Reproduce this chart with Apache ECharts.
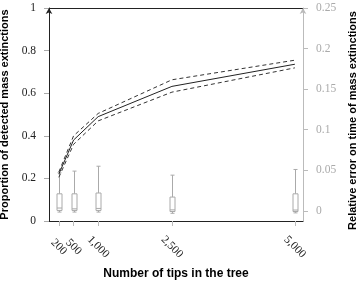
<!DOCTYPE html>
<html>
<head>
<meta charset="utf-8">
<script src="https://cdn.jsdelivr.net/npm/echarts@6/dist/echarts.min.js"></script>
<style>
  html, body { margin: 0; padding: 0; background: #fff; }
  #chart { width: 358px; height: 286px; }
</style>
</head>
<body>
<div id="chart"></div>
<script>
  'use strict';

  // number of tips
  const tips = [200, 500, 1000, 2500, 5000];
  const tipLabels = ['200', '500', '1,000', '2,500', '5,000'];

  // proportion of detected mass extinctions (mean and band)
  const propMean = [0.22, 0.38, 0.49, 0.632, 0.736];
  const propUpper = [0.23, 0.40, 0.505, 0.663, 0.755];
  const propLower = [0.205, 0.36, 0.47, 0.605, 0.719];

  // relative error boxplots: low whisker, q1, median, q3, high whisker
  const errLow = [-0.0015, -0.0015, -0.0015, -0.003, -0.0025];
  const errQ1 = [0.0005, 0.0005, 0.0005, -0.0008, -0.0008];
  const errMed = [0.0035, 0.0025, 0.003, 0.0012, 0.001];
  const errQ3 = [0.021, 0.021, 0.022, 0.017, 0.021];
  const errHigh = [0.047, 0.049, 0.055, 0.044, 0.051];

  const rightTicks = [0, 0.05, 0.1, 0.15, 0.2, 0.25];

  const serif = 'Liberation Serif';
  const sans = 'Liberation Sans';
  const xMax = 5165;

  const pairs = (ys) => tips.map((x, i) => [x, ys[i]]);
  const boxData = tips.map((x, i) => [x, errLow[i], errQ1[i], errMed[i], errQ3[i], errHigh[i]]);
  const tipLabel = (v) => tipLabels[tips.indexOf(v)] || '';

  function renderBox(params, api) {
    const x = api.value(0);
    const pLow = api.coord([x, api.value(1)]);
    const pQ1 = api.coord([x, api.value(2)]);
    const pMed = api.coord([x, api.value(3)]);
    const pQ3 = api.coord([x, api.value(4)]);
    const pHigh = api.coord([x, api.value(5)]);
    const cx = Math.round(pLow[0]) + 0.5;
    const hw = 2.5;
    const cw = 2;
    const style = { stroke: '#aaa', lineWidth: 1, fill: null };
    return {
      type: 'group',
      children: [
        { type: 'line', shape: { x1: cx, y1: pHigh[1], x2: cx, y2: pQ3[1] }, style },
        { type: 'line', shape: { x1: cx, y1: pLow[1], x2: cx, y2: pQ1[1] }, style },
        { type: 'line', shape: { x1: cx - cw, y1: pHigh[1], x2: cx + cw, y2: pHigh[1] }, style },
        { type: 'line', shape: { x1: cx - cw, y1: pLow[1], x2: cx + cw, y2: pLow[1] }, style },
        { type: 'rect', shape: { x: cx - hw, y: pQ3[1], width: hw * 2, height: pQ1[1] - pQ3[1] }, style: { stroke: '#aaa', lineWidth: 1, fill: '#fff' } },
        { type: 'line', shape: { x1: cx - hw, y1: pMed[1], x2: cx + hw, y2: pMed[1] }, style }
      ]
    };
  }

  // bottom tick labels, split over two axes so none get dropped for overlap
  function labelAxis(values, extra) {
    return Object.assign({
      type: 'value',
      min: 0,
      max: xMax,
      axisLine: { show: false, onZero: false },
      axisTick: { show: false },
      axisLabel: {
        customValues: values,
        formatter: tipLabel,
        rotate: -45,
        align: 'center',
        verticalAlign: 'middle',
        margin: 26,
        hideOverlap: false,
        showMinLabel: true,
        showMaxLabel: true,
        fontFamily: serif,
        fontSize: 11.5,
        color: '#222'
      },
      splitLine: { show: false }
    }, extra);
  }

  const chart = echarts.init(document.getElementById('chart'), null, { renderer: 'canvas' });

  chart.setOption({
    animation: false,
    grid: { left: 49, right: 55, top: 8, bottom: 65, outerBoundsMode: 'none', containLabel: false },
    xAxis: [
      labelAxis([200, 1000, 2500, 5000], {
        name: 'Number of tips in the tree',
        nameLocation: 'middle',
        nameGap: 47,
        nameTextStyle: { fontFamily: sans, fontWeight: 'bold', fontSize: 12, color: '#000' },
        axisLine: { show: true, onZero: false, lineStyle: { color: '#222', width: 1 } },
        axisTick: { show: true, length: 5, lineStyle: { color: '#bbb' }, customValues: tips }
      }),
      labelAxis([500], { position: 'bottom' }),
      {
        type: 'value',
        position: 'top',
        min: 0,
        max: xMax,
        axisLine: { show: true, onZero: false, lineStyle: { color: '#222', width: 1 } },
        axisTick: { show: false },
        axisLabel: { show: false },
        splitLine: { show: false }
      }
    ],
    yAxis: [
      {
        type: 'value',
        min: 0,
        max: 1,
        interval: 0.2,
        name: 'Proportion of detected mass extinctions',
        nameLocation: 'middle',
        nameRotate: 90,
        nameGap: 35,
        nameTextStyle: { fontFamily: sans, fontWeight: 'bold', fontSize: 11, color: '#000' },
        axisLine: { show: true, onZero: false, symbol: ['none', 'arrow'], symbolSize: [5, 6], lineStyle: { color: '#222', width: 1 } },
        axisTick: { show: true, length: 5, lineStyle: { color: '#aaa' } },
        axisLabel: { margin: 13, fontFamily: serif, fontSize: 11.5, color: '#222', formatter: (v) => String(+v.toFixed(2)) },
        splitLine: { show: false }
      },
      {
        type: 'value',
        position: 'right',
        min: -0.0125,
        max: 0.25,
        name: 'Relative error on time of mass extinctions',
        nameLocation: 'middle',
        nameRotate: 90,
        nameGap: 43,
        nameTextStyle: { fontFamily: sans, fontWeight: 'bold', fontSize: 11, color: '#000', padding: [0, 12, 0, 0] },
        axisLine: { show: true, onZero: false, symbol: ['none', 'arrow'], symbolSize: [5, 6], lineStyle: { color: '#bbb', width: 1 } },
        axisTick: { show: true, length: 5, lineStyle: { color: '#bbb' }, customValues: rightTicks },
        axisLabel: { customValues: rightTicks, margin: 13, fontFamily: serif, fontSize: 11.5, color: '#aaa', formatter: (v) => String(+v.toFixed(3)) },
        splitLine: { show: false }
      }
    ],
    series: [
      {
        name: 'box',
        type: 'custom',
        xAxisIndex: 0,
        yAxisIndex: 1,
        renderItem: renderBox,
        data: boxData,
        z: 1
      },
      {
        name: 'upper',
        type: 'line',
        data: pairs(propUpper),
        symbol: 'none',
        lineStyle: { color: '#333', width: 1, type: [4, 3] },
        z: 3
      },
      {
        name: 'mean',
        type: 'line',
        data: pairs(propMean),
        symbol: 'none',
        lineStyle: { color: '#222', width: 1 },
        z: 3
      },
      {
        name: 'lower',
        type: 'line',
        data: pairs(propLower),
        symbol: 'none',
        lineStyle: { color: '#333', width: 1, type: [4, 3] },
        z: 3
      }
    ]
  });
</script>
</body>
</html>
